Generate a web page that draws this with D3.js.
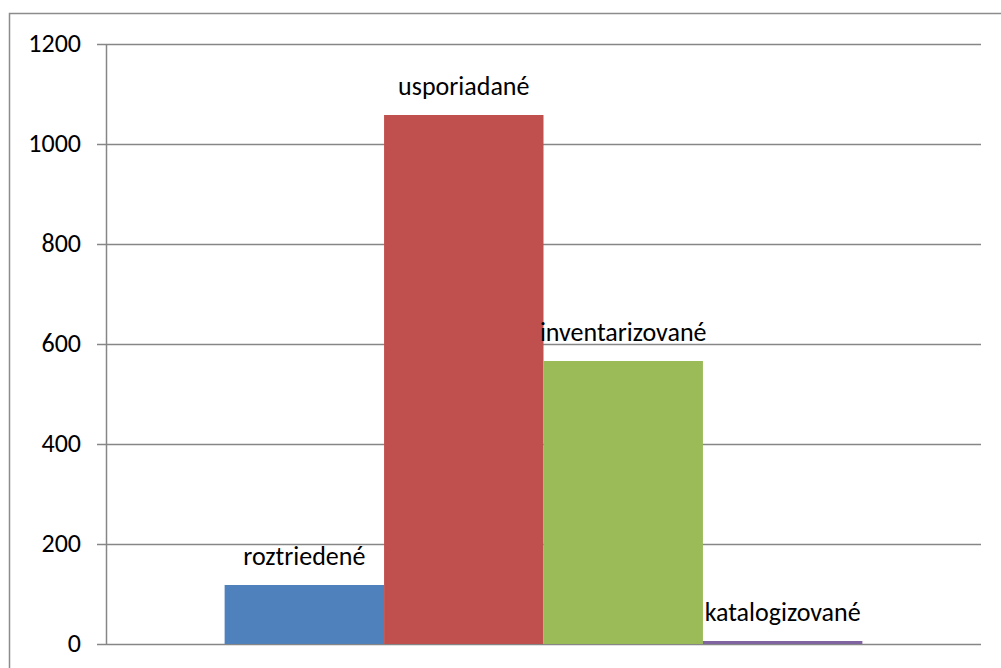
<!DOCTYPE html>
<html><head><meta charset="utf-8">
<script src="https://cdn.jsdelivr.net/npm/d3@7"></script>
<style>body{margin:0;background:#fff}svg{display:block}</style>
</head><body>
<svg id="c" width="1001" height="668"></svg>
<script>
const categories = ["roztriedené", "usporiadané", "inventarizované", "katalogizované"];
const values = [118, 1058, 566, 6];
const colors = ["#4f81bd", "#c0504d", "#9bbb59", "#8064a2"];
const yTicks = [0, 200, 400, 600, 800, 1000, 1200];

(function () {
const svg = d3.select("#c");
const font = "Carlito, 'Open Sans', 'Liberation Sans', sans-serif";
// outer frame
svg.append("rect").attr("x", 9.5).attr("y", 13.5).attr("width", 1010).attr("height", 680)
  .attr("fill", "none").attr("stroke", "#8c8c8c").attr("stroke-width", 1.5);

const pl = 106, pr = 981, pt = 44, pb = 644;
const y = d3.scaleLinear().domain([0, 1200]).range([pb, pt]);
const group = d3.scaleBand().domain(["g"]).range([pl, pr]).paddingInner(0).paddingOuter(0.186);
const x = d3.scaleBand().domain(categories).range([group("g"), group("g") + group.bandwidth()]);

// gridlines
svg.append("g").selectAll("line").data(yTicks).join("line")
  .attr("x1", pl - 9).attr("x2", pr)
  .attr("y1", d => Math.round(y(d)) + 0.5).attr("y2", d => Math.round(y(d)) + 0.5)
  .attr("stroke", "#868686").attr("stroke-width", 1.5);
svg.append("line").attr("x1", pl + 0.5).attr("x2", pl + 0.5).attr("y1", pt).attr("y2", pb + 1)
  .attr("stroke", "#868686").attr("stroke-width", 1.5);

svg.append("g").selectAll("text").data(yTicks).join("text")
  .attr("x", 81).attr("y", d => y(d)).attr("dy", "0.3em").attr("text-anchor", "end")
  .attr("font-family", font).attr("font-size", 26).attr("fill", "#000").text(d => d);

// bars
svg.append("g").selectAll("rect").data(values).join("rect")
  .attr("x", (d, i) => x(categories[i])).attr("width", x.bandwidth())
  .attr("y", d => y(d)).attr("height", d => pb - y(d))
  .attr("fill", (d, i) => colors[i]);

// labels
svg.append("g").selectAll("text").data(values).join("text")
  .attr("x", (d, i) => x(categories[i]) + x.bandwidth() / 2)
  .attr("y", d => y(d) - 20).attr("text-anchor", "middle")
  .attr("font-family", font).attr("font-size", 26).attr("fill", "#000")
  .text((d, i) => categories[i]);
})();
</script>
</body></html>
